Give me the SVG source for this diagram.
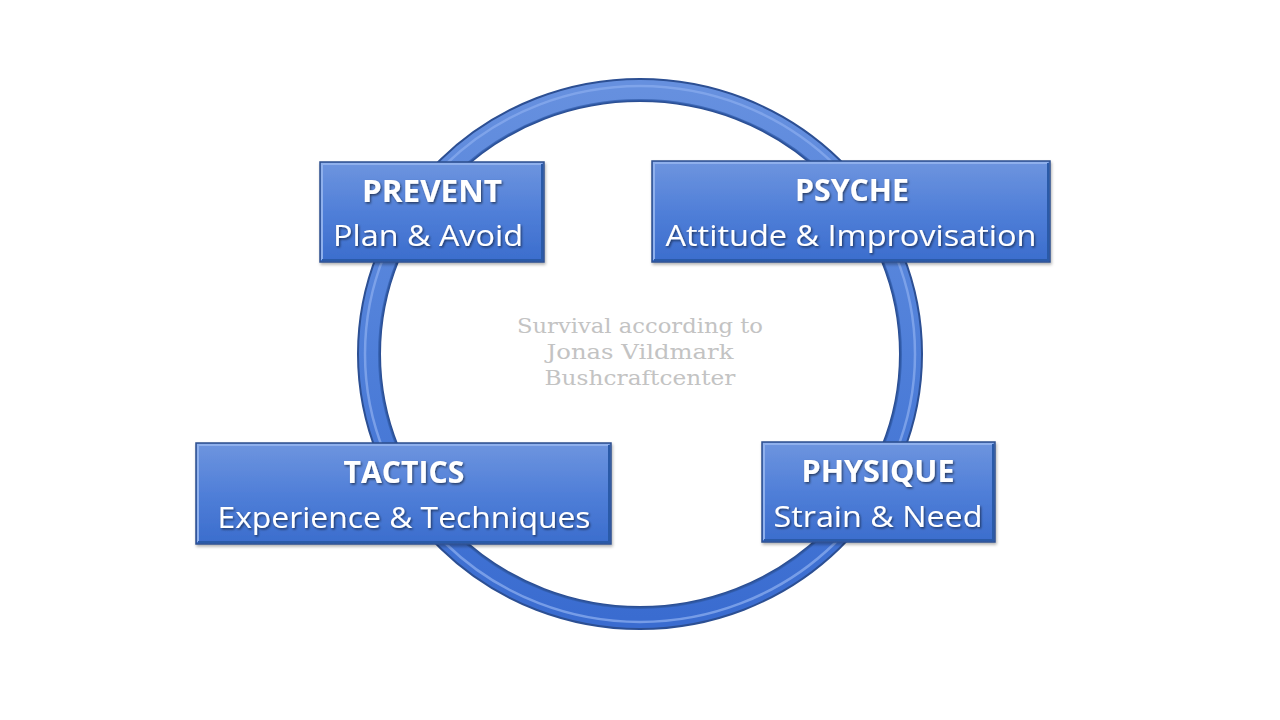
<svg xmlns="http://www.w3.org/2000/svg" width="1280" height="720" viewBox="0 0 1280 720">
<defs>
<linearGradient id="ringG" x1="0" y1="0" x2="0" y2="1">
<stop offset="0" stop-color="#6690df"/>
<stop offset="0.5" stop-color="#4f7fd9"/>
<stop offset="1" stop-color="#3a6cd0"/>
</linearGradient>
<linearGradient id="boxG" x1="0" y1="0" x2="0" y2="1">
<stop offset="0" stop-color="#6e95df"/>
<stop offset="0.5" stop-color="#507fd8"/>
<stop offset="1" stop-color="#3b6dcd"/>
</linearGradient>
<filter id="ts" x="-10%" y="-30%" width="120%" height="160%">
<feDropShadow dx="1.2" dy="1.5" stdDeviation="1" flood-color="#000" flood-opacity="0.55"/>
</filter>
<filter id="bs" x="-5%" y="-10%" width="110%" height="125%">
<feDropShadow dx="1" dy="2" stdDeviation="1.5" flood-color="#000" flood-opacity="0.3"/>
</filter>
</defs>
<style>
.box{fill:url(#boxG);stroke:#2d4f8e;stroke-width:1.5}
.bevT{fill:none;stroke:#8fb0ec;stroke-width:2}
.bevB{fill:none;stroke:#2c5aa8;stroke-width:2}
.t{font-family:"Open Sans","Noto Sans","DejaVu Sans",sans-serif;fill:#fff;text-anchor:middle;filter:url(#ts)}
.h{font-weight:bold;font-size:30px}
.s{font-size:30px}
.c{font-family:"DejaVu Serif","Liberation Serif",serif;font-size:21px;fill:#c3c3c3;text-anchor:middle}
</style>
<rect width="1280" height="720" fill="#fff"/>
<g id="ring">
<ellipse cx="640" cy="354" rx="271" ry="264" fill="none" stroke="#2c4f93" stroke-width="24"/>
<ellipse cx="640" cy="354" rx="271" ry="264" fill="none" stroke="url(#ringG)" stroke-width="20"/>
<ellipse cx="640" cy="354" rx="275" ry="268" fill="none" stroke="#86a9ec" stroke-width="2.5" opacity="0.8"/>
<ellipse cx="640" cy="354" rx="261" ry="254" fill="none" stroke="#2f5aa6" stroke-width="2" opacity="0.7"/>
</g>
<g id="prevent" filter="url(#bs)">
<rect class="box" x="320" y="162" width="224" height="100"/>
<polyline class="bevT" points="322,260 322,164 542,164"/>
<polyline class="bevB" points="322,260 542,260 542,164"/>
<text class="t h" x="432" y="202" textLength="140" lengthAdjust="spacingAndGlyphs">PREVENT</text>
<text class="t s" x="428" y="246" textLength="190" lengthAdjust="spacingAndGlyphs">Plan &amp; Avoid</text>
</g>
<g id="psyche" filter="url(#bs)">
<rect class="box" x="652" y="161" width="398" height="101"/>
<polyline class="bevT" points="654,260 654,163 1048,163"/>
<polyline class="bevB" points="654,260 1048,260 1048,163"/>
<text class="t h" x="852" y="201" textLength="114" lengthAdjust="spacingAndGlyphs">PSYCHE</text>
<text class="t s" x="851" y="246" textLength="371" lengthAdjust="spacingAndGlyphs">Attitude  &amp; Improvisation</text>
</g>
<g id="tactics" filter="url(#bs)">
<rect class="box" x="196" y="443" width="415" height="101"/>
<polyline class="bevT" points="198,542 198,445 609,445"/>
<polyline class="bevB" points="198,542 609,542 609,445"/>
<text class="t h" x="404" y="483" textLength="121" lengthAdjust="spacingAndGlyphs">TACTICS</text>
<text class="t s" x="404" y="528" textLength="373" lengthAdjust="spacingAndGlyphs">Experience &amp; Techniques</text>
</g>
<g id="physique" filter="url(#bs)">
<rect class="box" x="762" y="442" width="233" height="100"/>
<polyline class="bevT" points="764,540 764,444 993,444"/>
<polyline class="bevB" points="764,540 993,540 993,444"/>
<text class="t h" x="878" y="482" textLength="153" lengthAdjust="spacingAndGlyphs">PHYSIQUE</text>
<text class="t s" x="878" y="527" textLength="209" lengthAdjust="spacingAndGlyphs">Strain &amp; Need</text>
</g>
<g id="center">
<text class="c" x="640" y="333" textLength="246" lengthAdjust="spacingAndGlyphs">Survival according to</text>
<text class="c" x="640" y="359" textLength="187" lengthAdjust="spacingAndGlyphs">Jonas Vildmark</text>
<text class="c" x="640" y="385" textLength="191" lengthAdjust="spacingAndGlyphs">Bushcraftcenter</text>
</g>
</svg>
